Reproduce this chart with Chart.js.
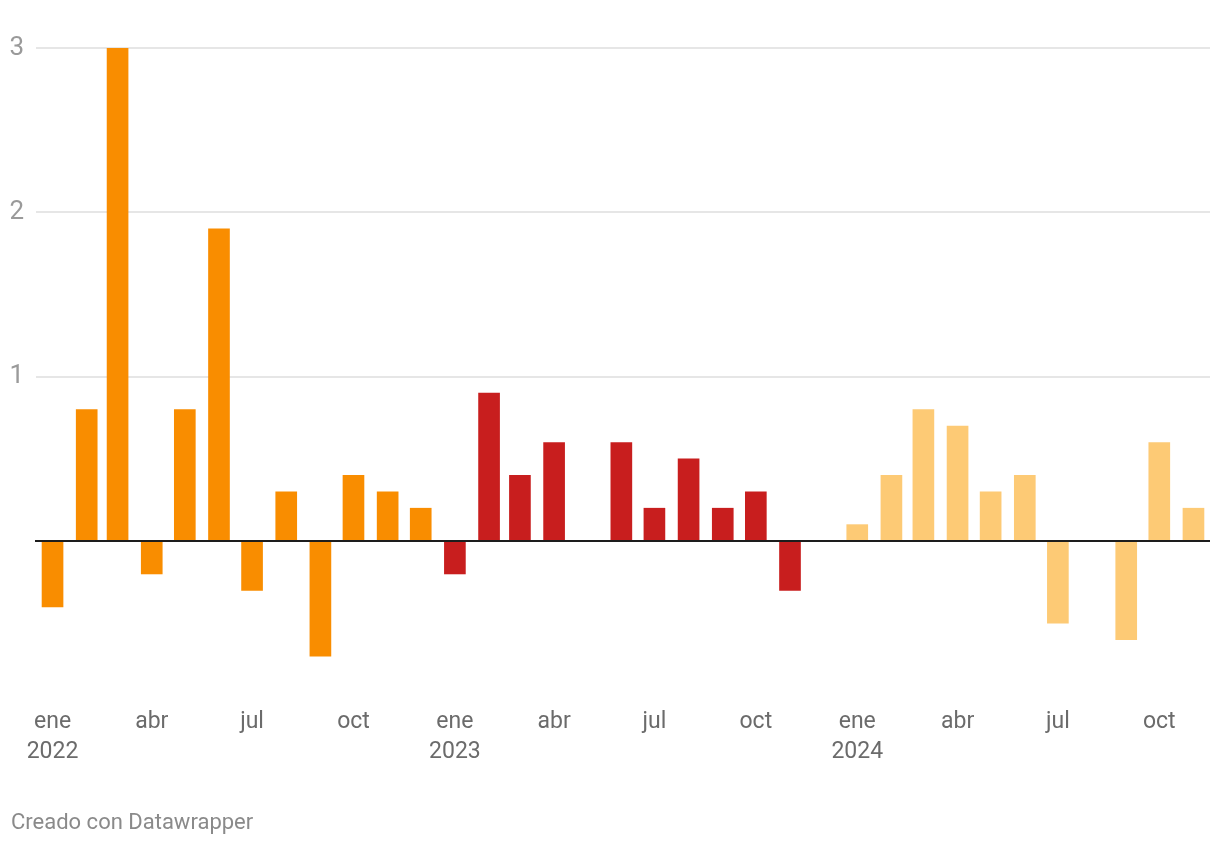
<!DOCTYPE html>
<html>
<head>
<meta charset="utf-8">
<script src="https://cdn.jsdelivr.net/npm/chart.js@4/dist/chart.umd.min.js"></script>
<style>
  html, body { margin: 0; padding: 0; background: #ffffff; }
  #wrap { position: relative; width: 1220px; height: 846px; }
  #c { position: absolute; left: 0; top: 0; }
  #footer { position: absolute; left: 11px; top: 811px; font: 22px Roboto, sans-serif; line-height: 22px; color: #8a8a8a; }
</style>
</head>
<body>
<div id="wrap">
  <canvas id="c" width="1220" height="846"></canvas>
  <div id="footer">Creado con Datawrapper</div>
</div>
<script>
// ---- data ----
const months = [
  '2022-01','2022-02','2022-03','2022-04','2022-05','2022-06','2022-07','2022-08','2022-09','2022-10','2022-11','2022-12',
  '2023-01','2023-02','2023-03','2023-04','2023-05','2023-06','2023-07','2023-08','2023-09','2023-10','2023-11','2023-12',
  '2024-01','2024-02','2024-03','2024-04','2024-05','2024-06','2024-07','2024-08','2024-09','2024-10','2024-11'
];
const values = [
  -0.4, 0.8, 3.0, -0.2, 0.8, 1.9, -0.3, 0.3, -0.7, 0.4, 0.3, 0.2,
  -0.2, 0.9, 0.4, 0.6, 0.0, 0.6, 0.2, 0.5, 0.2, 0.3, -0.3, 0.0,
  0.1, 0.4, 0.8, 0.7, 0.3, 0.4, -0.5, 0.0, -0.6, 0.6, 0.2
];
const years = ['2022', '2023', '2024'];
const yearColors = ['#f98d00', '#c81e1e', '#fdca75'];
const tickMonths = ['2022-01','2022-04','2022-07','2022-10','2023-01','2023-04','2023-07','2023-10','2024-01','2024-04','2024-07','2024-10'];
const tickTexts = [['ene','2022'],'abr','jul','oct',['ene','2023'],'abr','jul','oct',['ene','2024'],'abr','jul','oct'];
const yTicks = [0, 1, 2, 3];

// ---- helpers ----
function dayIndex(ym) {
  const [y, m] = ym.split('-').map(Number);
  return Math.round((Date.UTC(y, m - 1, 1) - Date.UTC(2022, 0, 1)) / 86400000);
}
const points = months.map((m, i) => ({ x: dayIndex(m), y: values[i] }));
const colors = months.map(m => yearColors[years.indexOf(m.slice(0, 4))]);
const tickDays = tickMonths.map(dayIndex);

const zeroLine = {
  id: 'zeroLine',
  afterDatasetsDraw(chart) {
    const { ctx, chartArea, scales } = chart;
    const y = scales.y.getPixelForValue(0);
    ctx.save();
    ctx.strokeStyle = '#1d1d1d';
    ctx.lineWidth = 2;
    ctx.beginPath();
    ctx.moveTo(chartArea.left - 1, y);
    ctx.lineTo(chartArea.right, y);
    ctx.stroke();
    ctx.restore();
  }
};

new Chart(document.getElementById('c'), {
  type: 'bar',
  data: {
    datasets: [{
      data: points,
      backgroundColor: colors,
      borderWidth: 0,
      barThickness: 21
    }]
  },
  options: {
    responsive: false,
    animation: false,
    layout: { padding: { top: 48, right: 10, left: 0, bottom: 0 } },
    plugins: { legend: { display: false }, tooltip: { enabled: false } },
    scales: {
      x: {
        type: 'linear',
        offset: false,
        min: -15,
        max: 1050,
        grid: { display: false, drawTicks: false, offset: false },
        border: { display: false },
        afterBuildTicks(scale) { scale.ticks = tickDays.map(v => ({ value: v })); },
        afterFit(scale) { scale.height = 157; },
        ticks: {
          autoSkip: false,
          maxRotation: 0,
          padding: 19,
          color: '#6b6b6b',
          font: { family: 'Roboto', size: 23, lineHeight: 1.27 },
          callback(value) { const i = tickDays.indexOf(value); return i >= 0 ? tickTexts[i] : ''; }
        }
      },
      y: {
        min: -0.9,
        max: 3,
        grid: {
          drawTicks: false,
          lineWidth: 2,
          color(ctx) { return ctx.tick && ctx.tick.value === 0 ? 'rgba(0,0,0,0)' : '#e6e6e6'; }
        },
        border: { display: false },
        afterBuildTicks(scale) { scale.ticks = yTicks.map(v => ({ value: v })); },
        afterFit(scale) { scale.width = 36; },
        ticks: {
          padding: 12,
          color: '#9a9a9a',
          font: { family: 'Roboto', size: 26 },
          callback(value) { return value === 0 ? '' : String(value); }
        }
      }
    }
  },
  plugins: [zeroLine]
});
</script>
</body>
</html>
